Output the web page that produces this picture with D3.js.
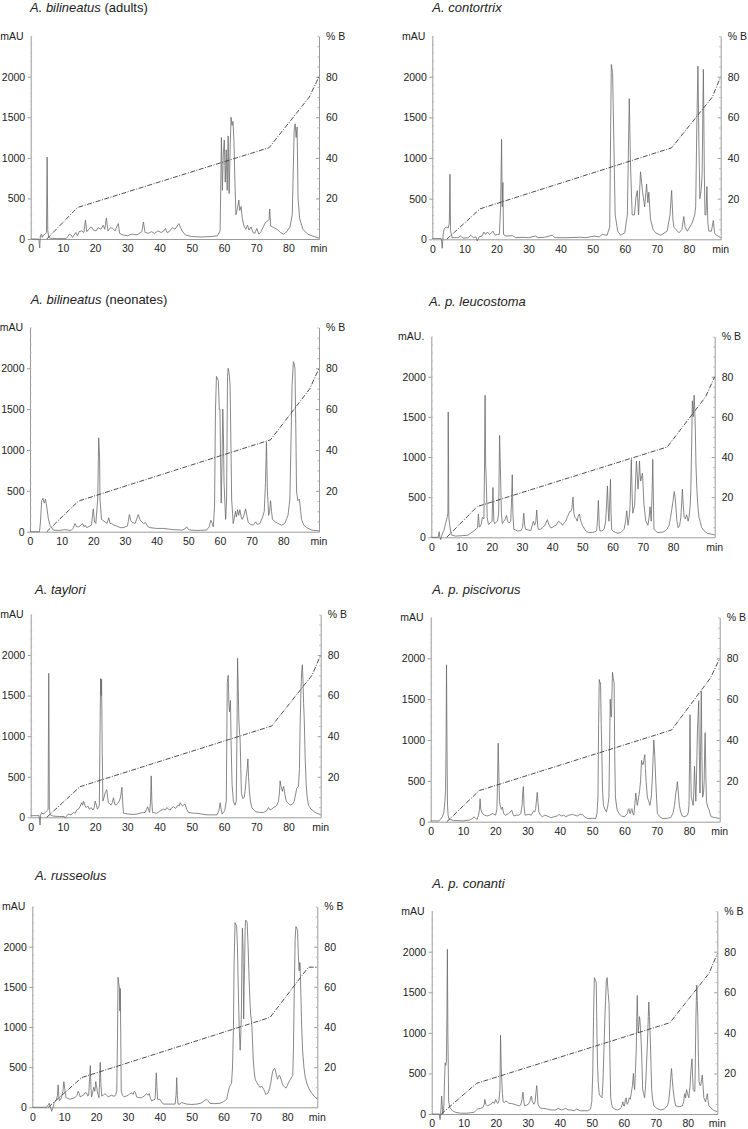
<!DOCTYPE html>
<html><head><meta charset="utf-8">
<script src="https://cdn.jsdelivr.net/npm/d3@7"></script>
<style>
html,body{margin:0;padding:0;background:#fff;}
svg{display:block;font-family:"Liberation Sans",Arial,sans-serif;}
</style></head>
<body>
<svg id="chart" width="748" height="1129"></svg>
<script>
// ---------- DATA ----------
const titleItalic = ["A. bilineatus","A. contortrix","A. bilineatus","A. p. leucostoma","A. taylori","A. p. piscivorus","A. russeolus","A. p. conanti"];
const titleNormal = [" (adults)","",  " (neonates)","","","","",""];
const leftUnit = ["mAU","mAU","mAU","mAU.","mAU","mAU","mAU","mAU"];
const xTickLabels = [0,10,20,30,40,50,60,70,80];
const mauTicks = [0,500,1000,1500,2000];
const pctTicks = [20,40,60,80];
const timeMax = [89.5, 89.9, 91.3, 93.8, 90.0, 89.5, 89.4, 89.2];

// chromatogram traces: [time(min), absorbance(mAU)] pairs
const traceAdults = [0,0, 2.5,0, 2.8,-110, 3.0,40, 3.3,60, 3.6,20, 4.0,50, 4.5,60, 4.9,80, 5.1,1010, 5.3,100, 5.6,20, 6,10, 8,5, 11,5, 11.5,30, 12,60, 12.5,50, 13,20, 13.5,50, 14,80, 14.5,40, 15,90, 15.8,100, 16.5,80, 17,230, 17.4,90, 18,120, 18.8,150, 19.5,110, 20.3,100, 21,140, 21.8,120, 22.5,170, 23,120, 23.5,260, 24,100, 24.8,140, 25.5,130, 26.2,100, 26.8,160, 27.2,190, 27.6,70, 28.5,50, 30,40, 31.5,60, 33,50, 34.5,90, 35,210, 35.5,80, 36.5,70, 37.5,90, 38.5,70, 39.5,100, 40.5,80, 41.3,100, 41.8,130, 42.3,80, 43,90, 44,140, 44.8,120, 45.5,160, 46,190, 46.5,140, 47,100, 48,50, 50,30, 53,25, 56,30, 58,40, 58.8,100, 59.2,1250, 59.5,600, 59.8,1050, 60.1,1220, 60.4,700, 60.7,1100, 61.0,600, 61.3,1270, 61.6,560, 61.9,1100, 62.2,1500, 62.5,1400, 62.8,1450, 63.1,1200, 63.4,700, 63.7,300, 64.2,380, 64.6,480, 64.9,350, 65.3,400, 65.7,250, 66.2,160, 66.8,120, 67.3,170, 67.8,110, 68.4,150, 69,80, 69.6,70, 70.2,130, 70.8,60, 71.5,90, 72.2,150, 72.8,200, 73.5,220, 74,240, 74.2,370, 74.5,160, 75.5,140, 76.5,120, 77.5,80, 78.5,60, 79.5,90, 80.5,150, 81.2,300, 81.8,1350, 82.1,1420, 82.4,1250, 82.7,1380, 83,500, 83.5,250, 84.5,120, 86,60, 88,30, 89.5,10];

const traceContortrix = [0,10, 2.8,10, 3.1,-110, 3.4,60, 3.7,130, 4.3,150, 5.0,140, 5.3,200, 5.5,800, 5.7,100, 6.2,20, 8,20, 8.8,40, 9.6,15, 11.2,20, 12,50, 12.8,20, 13.6,30, 14,-20, 14.6,30, 15.5,40, 16.1,90, 16.6,60, 17.2,90, 17.8,60, 18.5,80, 18.9,100, 19.6,50, 20.3,60, 20.9,60, 21.3,400, 21.6,1230, 21.8,400, 22.0,700, 22.2,60, 23,40, 25,45, 26,20, 28,25, 30,20, 32.2,40, 33,20, 35,25, 37.4,50, 38.2,20, 42,20, 46.2,25, 48,20, 50.4,40, 52,30, 53,60, 54.5,50, 55.3,150, 55.8,2150, 56.2,2050, 56.6,1200, 57.0,300, 57.8,100, 58.7,50, 60,80, 60.8,300, 61.4,1730, 61.8,900, 62.3,300, 63,300, 63.5,520, 63.9,600, 64.3,300, 64.9,830, 65.5,600, 66.2,400, 66.8,680, 67.2,450, 67.5,580, 68,250, 68.8,120, 69.6,80, 71.2,50, 73.2,100, 74.1,300, 74.6,600, 75.0,250, 75.3,150, 76.9,80, 77.8,120, 78.4,280, 78.8,150, 79.5,100, 81,200, 81.8,300, 82.1,400, 82.5,1500, 82.8,2130, 83.1,1200, 83.4,500, 83.8,600, 84.1,800, 84.5,2090, 84.8,800, 85,300, 85.3,300, 85.6,650, 85.9,200, 86.2,100, 87,100, 87.6,230, 88,80, 88.3,60, 89.9,20];

const traceNeonates = [0,0, 3.0,0, 3.3,120, 3.7,380, 4.1,410, 4.5,350, 4.9,400, 5.3,300, 5.8,160, 6.3,80, 7.4,20, 9,15, 11,25, 13,15, 13.6,40, 14.2,100, 14.7,60, 15.3,60, 16.1,80, 16.6,100, 17.1,60, 17.4,80, 17.9,50, 19.4,80, 20.0,280, 20.4,120, 20.8,100, 21.4,400, 21.7,1150, 22.0,900, 22.1,400, 22.6,150, 23.7,120, 24.3,100, 24.9,170, 25.3,100, 25.8,100, 26.5,80, 27.4,70, 28.5,50, 29.5,50, 30.8,70, 31.4,210, 31.8,140, 32.1,120, 33.2,100, 34.2,210, 34.7,150, 35.3,120, 35.9,100, 36.5,110, 37.3,60, 37.9,50, 40,40, 42.1,40, 45.3,25, 48.2,20, 49.1,40, 49.5,60, 50.0,30, 50.5,20, 53,15, 55.8,20, 56.6,60, 57.1,140, 57.6,100, 57.9,60, 58.3,300, 58.6,1500, 58.9,1900, 59.2,1880, 59.5,1850, 59.8,1500, 60.0,1500, 60.4,350, 60.7,900, 60.9,1500, 61.1,1200, 61.3,600, 61.8,150, 62.1,400, 62.4,1900, 62.6,2000, 62.9,1950, 63.2,1800, 63.5,1000, 63.7,400, 64.2,100, 64.6,180, 64.9,250, 65.2,180, 65.6,270, 65.9,200, 66.3,270, 66.7,180, 67.1,150, 67.6,200, 68.1,280, 68.5,200, 68.9,120, 69.6,90, 70.5,80, 71.3,120, 71.8,90, 72.6,100, 73.5,180, 74.0,250, 74.4,600, 74.7,1100, 75.0,500, 75.4,200, 75.7,250, 76.0,380, 76.3,250, 76.6,150, 77.5,120, 78.4,100, 79.5,80, 80.5,100, 81.5,200, 82.1,400, 82.5,1200, 82.8,1800, 83.2,2080, 83.5,2050, 83.7,2000, 84.0,1200, 84.2,500, 84.6,380, 85.1,400, 85.5,250, 85.8,150, 86.5,80, 87.4,50, 89,20, 91.3,10];

const traceLeucostoma = [0,0, 2.3,0, 2.6,70, 2.8,10, 3.1,-30, 3.4,10, 3.6,40, 4.2,90, 4.8,180, 5.3,260, 5.5,300, 5.6,1560, 5.8,250, 6.1,150, 6.6,30, 8,15, 10,20, 12,25, 13,50, 14.1,80, 14.8,100, 15.3,120, 15.6,290, 15.9,130, 16.1,130, 16.5,160, 16.9,250, 17.4,230, 17.6,800, 17.8,1770, 18.0,900, 18.2,700, 18.5,250, 18.9,160, 19.6,180, 20.1,200, 20.4,620, 20.7,200, 21,170, 21.5,190, 21.9,200, 22.3,300, 22.6,1270, 22.9,800, 23.2,300, 23.5,170, 24.0,200, 24.4,220, 24.9,270, 25.3,200, 25.7,180, 26.3,200, 26.6,500, 26.8,780, 27.0,300, 27.3,100, 28,90, 28.5,80, 29.6,80, 30.2,120, 30.6,300, 30.9,150, 31.2,100, 32.2,90, 32.9,80, 33.4,150, 33.8,200, 34.2,150, 34.6,200, 34.9,340, 35.2,150, 35.4,100, 36.1,100, 36.8,120, 37.6,150, 38.4,220, 38.9,160, 39.5,120, 40.0,120, 40.6,140, 41.3,150, 42.1,200, 42.8,180, 43.4,150, 44.0,180, 44.5,200, 45.0,250, 45.4,280, 45.8,320, 46.1,320, 46.5,350, 46.9,500, 47.2,300, 47.5,250, 48.0,230, 48.3,200, 48.6,260, 49,290, 49.5,200, 50,150, 51.1,80, 52,60, 53.3,60, 54.2,70, 54.7,80, 55.0,200, 55.3,460, 55.6,150, 55.8,80, 56.5,80, 57.2,100, 57.7,200, 58.0,400, 58.3,640, 58.6,300, 58.8,200, 59.1,500, 59.3,720, 59.5,300, 59.7,100, 60.3,70, 61,60, 61.8,50, 62.7,60, 63.3,80, 63.8,100, 64.3,200, 64.7,330, 65.1,150, 65.5,250, 65.8,400, 66.0,700, 66.2,970, 66.5,500, 66.7,300, 67.0,350, 67.3,400, 67.6,700, 67.9,950, 68.2,750, 68.4,600, 68.7,750, 68.9,950, 69.1,800, 69.3,700, 69.6,750, 69.9,800, 70.2,550, 70.4,400, 71,200, 71.7,150, 72.1,250, 72.4,380, 72.8,200, 73.1,600, 73.3,970, 73.5,500, 73.7,100, 74.8,60, 76,60, 77,70, 78,100, 78.7,150, 79.2,250, 79.6,350, 80.0,450, 80.4,570, 80.7,500, 80.9,400, 81.3,200, 81.7,120, 82.2,150, 82.6,250, 82.9,450, 83.1,600, 83.4,400, 83.7,250, 84.1,230, 84.5,280, 85.0,200, 85.3,250, 85.7,400, 85.9,600, 86.2,1200, 86.4,1700, 86.7,1500, 87.0,1770, 87.2,1600, 87.4,1330, 87.6,900, 87.9,600, 88.2,400, 88.6,250, 89.5,120, 90.3,80, 91.4,50, 93.8,30];

const traceTaylori = [0,20, 2.6,20, 2.9,-95, 3.1,30, 3.4,60, 3.8,40, 4.2,50, 4.6,60, 5.0,80, 5.4,100, 5.6,1775, 5.8,100, 6.1,30, 7,15, 9,10, 10.4,10, 10.7,-10, 11.2,20, 11.7,40, 12.5,30, 13.3,60, 13.8,50, 14.3,90, 14.8,100, 15.3,130, 15.8,180, 16.1,150, 16.4,200, 16.8,150, 17.2,120, 17.7,140, 18.2,100, 18.8,120, 19.3,90, 19.7,120, 20.0,200, 20.4,150, 20.7,100, 21.0,120, 21.3,150, 21.5,1000, 21.7,1710, 21.85,1500, 22.0,1700, 22.2,800, 22.4,200, 22.8,250, 23.1,300, 23.6,340, 24.1,180, 24.5,170, 24.9,150, 25.3,180, 25.7,240, 26.1,160, 26.5,150, 27,170, 27.5,200, 27.9,250, 28.3,370, 28.6,150, 28.8,50, 30.3,40, 31.9,35, 33,40, 34,50, 35,60, 35.5,60, 36.0,100, 36.3,130, 36.6,90, 36.9,60, 37.2,200, 37.4,510, 37.6,200, 37.8,60, 39.1,50, 40.2,80, 41.2,100, 41.8,90, 42.2,120, 42.8,100, 43.3,90, 43.8,120, 44.3,130, 45.0,110, 45.7,150, 46.1,140, 46.4,180, 46.8,150, 47.2,140, 47.6,160, 47.9,160, 48.4,100, 49,60, 50.5,50, 51.6,50, 53,40, 54.7,30, 56,30, 57.8,30, 58.4,80, 58.8,180, 59.1,100, 59.4,40, 60.2,80, 60.7,200, 61.0,1660, 61.3,1750, 61.5,1400, 61.7,1300, 62.0,1440, 62.2,900, 62.5,400, 62.9,200, 63.4,150, 63.8,200, 64.0,1000, 64.2,1960, 64.4,1600, 64.6,1200, 64.8,1050, 65.0,950, 65.2,600, 65.4,300, 65.8,230, 66.3,250, 66.6,350, 66.9,500, 67.2,600, 67.4,720, 67.6,500, 67.9,300, 68.2,200, 68.6,120, 69.7,70, 71,60, 72.3,60, 73.2,80, 73.8,120, 74.3,90, 74.8,100, 75.3,120, 75.9,130, 76.4,150, 76.9,200, 77.2,300, 77.4,450, 77.7,380, 78.1,320, 78.3,360, 78.5,380, 78.9,280, 79.3,200, 80.0,170, 80.5,150, 81.2,160, 81.8,200, 82.3,300, 82.6,360, 83.1,380, 83.4,600, 83.6,1100, 83.9,1600, 84.1,1800, 84.3,1880, 84.5,1700, 84.7,1400, 84.9,1200, 85.2,700, 85.5,400, 85.8,250, 86.2,150, 87,100, 88.3,60, 90,30];

const tracePiscivorus = [0,10, 2.5,10, 3.1,30, 3.6,60, 4.1,120, 4.4,250, 4.6,380, 4.75,900, 4.9,1920, 5.05,900, 5.2,200, 5.4,80, 5.7,30, 7,15, 10,10, 12,20, 13.0,40, 13.4,60, 13.9,40, 14.4,30, 14.8,80, 15.1,150, 15.3,280, 15.5,150, 16,100, 16.7,80, 17.5,70, 18.3,80, 19.1,100, 19.6,90, 20.1,80, 20.5,150, 20.7,500, 20.9,960, 21.1,600, 21.3,250, 21.5,200, 21.9,150, 22.2,180, 22.6,100, 23.2,80, 24.1,100, 24.7,120, 25.1,140, 25.5,90, 25.8,70, 26.5,80, 27.3,80, 27.9,100, 28.3,200, 28.5,350, 28.7,430, 28.9,200, 29.2,80, 30.4,90, 31.2,80, 31.8,130, 32.2,120, 32.5,160, 32.8,280, 33.0,360, 33.2,250, 33.5,120, 34.0,80, 34.6,60, 35.3,80, 36.1,70, 37.2,50, 38.2,60, 39.2,70, 39.7,90, 40.5,70, 41.2,80, 41.8,60, 42.8,80, 43.9,90, 44.6,80, 45.4,70, 46.2,90, 47,90, 47.6,60, 48.5,40, 50,40, 51.1,40, 51.5,100, 51.8,300, 52.0,1200, 52.2,1740, 52.4,1700, 52.6,1700, 52.8,1200, 53.0,850, 53.2,400, 53.5,200, 54.0,150, 54.4,120, 54.8,180, 55.2,300, 55.4,900, 55.6,1500, 55.8,1300, 56.0,1280, 56.15,1600, 56.3,1830, 56.55,1750, 56.8,1700, 57.0,800, 57.2,300, 57.7,150, 58.3,100, 59.1,70, 59.9,60, 60.5,80, 60.9,100, 61.2,150, 61.4,160, 61.7,100, 61.9,100, 62.1,150, 62.3,160, 62.6,100, 62.9,80, 63.2,200, 63.5,350, 63.8,250, 64.0,200, 64.4,300, 64.7,380, 65.0,500, 65.3,750, 65.6,700, 65.8,700, 66.0,750, 66.3,820, 66.5,650, 66.7,500, 67.1,300, 67.5,250, 67.9,200, 68.3,300, 68.6,500, 68.9,800, 69.1,1000, 69.4,800, 69.7,500, 70.0,250, 70.2,100, 71.0,60, 71.7,40, 73,40, 74.3,50, 75.0,100, 75.5,200, 75.9,350, 76.2,420, 76.4,490, 76.7,350, 77.0,200, 77.4,120, 77.9,70, 78.7,60, 79.5,80, 79.8,120, 80.0,200, 80.15,700, 80.3,1310, 80.5,700, 80.7,300, 81.0,250, 81.3,200, 81.5,400, 81.7,680, 81.9,450, 82.1,250, 82.3,500, 82.6,1100, 82.8,1300, 83.0,1480, 83.2,800, 83.4,350, 83.6,900, 83.8,1600, 84.0,800, 84.2,300, 84.5,350, 84.7,500, 84.85,900, 85.0,1090, 85.2,600, 85.4,250, 85.8,180, 86.2,150, 86.5,100, 86.9,60, 88,50, 89.5,40];

const traceRusseolus = [0,0, 4.5,0, 5.3,50, 6.1,-50, 6.5,0, 6.9,60, 7.3,80, 7.6,100, 7.9,150, 8.1,280, 8.3,150, 8.5,80, 8.9,100, 9.2,130, 9.6,200, 9.9,320, 10.2,220, 10.6,120, 11.2,110, 11.8,100, 12.6,110, 13.4,120, 14.0,150, 14.4,200, 14.7,170, 15.0,130, 15.5,140, 16.0,150, 16.5,180, 17.0,180, 17.4,140, 17.7,150, 17.95,350, 18.2,520, 18.4,250, 18.6,130, 19.0,200, 19.3,250, 19.6,200, 19.9,320, 20.2,250, 20.4,200, 20.7,150, 20.9,120, 21.1,300, 21.3,560, 21.5,300, 21.8,140, 22.3,150, 22.8,170, 23.3,150, 23.8,130, 24.3,140, 24.9,150, 25.4,140, 25.9,140, 26.2,160, 26.5,200, 26.7,800, 26.9,1620, 27.1,1550, 27.3,1500, 27.45,1200, 27.6,1480, 27.75,900, 27.9,200, 28.3,150, 28.8,130, 29.5,140, 30.1,150, 30.6,170, 31.2,180, 31.6,160, 32.0,200, 32.4,180, 32.7,130, 33.5,120, 34.3,120, 35.1,140, 35.9,170, 36.3,150, 36.7,170, 37.0,120, 37.4,80, 38.0,90, 38.5,100, 38.7,250, 38.9,430, 39.1,250, 39.3,100, 40,100, 40.5,70, 41.1,40, 43.2,40, 44.8,40, 45.1,150, 45.3,370, 45.5,150, 45.7,40, 46.3,40, 46.9,60, 47.5,50, 48.4,40, 50,35, 51.6,40, 52.8,50, 53.6,70, 54.2,90, 54.7,100, 55.2,80, 55.7,50, 57,45, 58.9,50, 60,70, 61.0,100, 61.4,180, 61.8,250, 62.2,280, 62.5,300, 62.8,500, 63.1,1000, 63.3,1800, 63.6,2300, 63.85,2280, 64.1,2250, 64.35,2000, 64.6,1500, 64.9,1000, 65.2,710, 65.4,900, 65.6,1200, 65.75,1800, 65.9,2230, 66.1,2000, 66.3,1100, 66.45,1500, 66.6,1800, 66.75,2200, 66.9,2330, 67.15,2320, 67.4,2300, 67.7,2000, 68.0,1600, 68.3,1300, 68.5,1150, 68.7,1100, 68.9,1000, 69.1,800, 69.3,600, 69.6,450, 69.9,350, 70.3,320, 70.6,300, 71.0,270, 71.4,250, 72.0,260, 72.5,230, 72.9,200, 73.2,160, 73.6,170, 74.0,180, 74.4,230, 74.8,300, 75.1,380, 75.4,450, 75.8,480, 76.1,480, 76.5,420, 76.9,350, 77.2,370, 77.5,400, 77.8,380, 78.0,350, 78.4,300, 78.7,270, 79.2,250, 79.6,240, 80.0,270, 80.3,300, 80.7,330, 81.0,350, 81.4,380, 81.7,400, 81.9,700, 82.2,1500, 82.45,2100, 82.7,2250, 82.95,2230, 83.2,2200, 83.45,1900, 83.7,1700, 83.85,1800, 84.0,1800, 84.25,1400, 84.5,1000, 84.8,700, 85.2,500, 85.6,380, 86.1,300, 86.8,230, 87.6,180, 88.4,140, 89.4,100];

const traceConanti = [0,0, 2.4,0, 2.6,-70, 2.8,0, 2.95,100, 3.1,220, 3.3,100, 3.5,0, 3.8,100, 4.0,400, 4.2,630, 4.4,600, 4.6,650, 4.75,1200, 4.9,2030, 5.05,1000, 5.3,150, 5.7,80, 6.5,40, 7.5,20, 9,10, 11,10, 13.2,20, 13.7,40, 14.3,60, 15.3,70, 16.0,80, 16.4,120, 16.6,180, 16.9,120, 17.4,100, 17.9,110, 18.4,120, 18.8,130, 19.1,150, 19.6,130, 20.0,180, 20.4,140, 20.7,130, 21.0,160, 21.3,300, 21.5,970, 21.7,600, 21.9,400, 22.1,250, 22.3,150, 22.7,140, 23.1,160, 23.6,150, 24.1,130, 24.9,130, 25.7,120, 26.5,110, 27.3,100, 27.8,110, 28.2,180, 28.5,270, 28.7,180, 29.0,100, 29.7,110, 30.4,130, 30.8,180, 31.1,220, 31.4,160, 31.9,120, 32.3,150, 32.6,280, 32.8,350, 33.0,250, 33.2,120, 33.6,90, 34.0,70, 35,70, 36.1,60, 37.3,50, 38.7,50, 39.5,70, 40.5,50, 41.3,60, 41.8,70, 42.6,50, 43.5,50, 44.4,40, 45.3,60, 46.4,40, 48.6,40, 49.2,50, 49.6,60, 50.0,150, 50.3,500, 50.55,1200, 50.8,1680, 51.1,1650, 51.4,1620, 51.6,1000, 51.8,600, 52.0,400, 52.3,250, 52.7,220, 53.2,200, 53.5,400, 53.8,800, 54.1,1200, 54.3,1400, 54.55,1650, 54.8,1680, 55.1,1500, 55.4,1350, 55.65,700, 55.9,200, 56.2,120, 56.5,80, 57.2,60, 58.0,50, 58.7,60, 59.2,80, 59.5,120, 59.7,150, 59.95,100, 60.2,100, 60.5,180, 60.7,200, 60.9,140, 61.1,120, 61.4,150, 61.7,200, 62.0,180, 62.3,250, 62.7,350, 63.0,500, 63.2,350, 63.4,300, 63.6,500, 63.9,800, 64.05,1200, 64.2,1460, 64.35,1200, 64.5,1000, 64.7,1100, 64.9,1200, 65.05,1150, 65.2,1050, 65.4,900, 65.6,700, 65.9,300, 66.2,250, 66.5,200, 66.8,350, 67.0,520, 67.3,800, 67.5,1000, 67.65,1200, 67.8,1380, 68.0,1200, 68.3,900, 68.5,600, 68.7,300, 69.0,180, 69.4,100, 70.3,70, 71.5,50, 72.6,60, 73.6,100, 74.0,150, 74.4,300, 74.65,450, 74.9,560, 75.1,450, 75.4,300, 75.8,180, 76.2,100, 77.2,90, 78.3,100, 78.7,150, 79.0,250, 79.3,200, 79.6,300, 79.9,250, 80.3,200, 80.7,350, 81.0,560, 81.3,680, 81.5,450, 81.7,300, 82.0,280, 82.2,280, 82.35,700, 82.5,1150, 82.65,1400, 82.8,1590, 82.95,1400, 83.1,1200, 83.3,700, 83.5,400, 83.8,350, 84.0,350, 84.3,420, 84.5,480, 84.75,350, 85.0,200, 85.5,150, 85.8,200, 86.1,250, 86.35,150, 86.6,100, 87.1,80, 87.6,60, 88.3,40, 89.2,30];

// solvent gradient: [time(min), %B] pairs
const gradAdults = [5.0,0, 14.5,15.5, 74.0,45, 86.5,70, 89.5,80];
const gradContortrix = [4.5,0, 14.9,15, 74.6,45, 87.3,70, 89.9,80];
const gradNeonates = [5.3,0, 15.3,15, 76.0,45, 88.4,70, 91.3,80];
const gradLeucostoma = [5.1,0, 15.2,15.3, 78.1,45, 90.8,70, 93.8,80];
const gradTaylori = [5.0,0, 15.3,15.1, 74.8,45, 87.3,70, 90.0,80];
const gradPiscivorus = [5.0,0, 15.0,15.2, 74.6,44.9, 86.7,70.5, 89.5,80];
const gradRusseolus = [5.0,0, 15.5,14.8, 74.6,44.8, 86.6,69.8, 89.4,69.8];
const gradConanti = [3.0,0, 14.0,15.1, 74.4,45, 86.6,69.3, 89.2,79];

const traces = [traceAdults, traceContortrix, traceNeonates, traceLeucostoma, traceTaylori, tracePiscivorus, traceRusseolus, traceConanti];
const grads = [gradAdults, gradContortrix, gradNeonates, gradLeucostoma, gradTaylori, gradPiscivorus, gradRusseolus, gradConanti];

// ---------- LAYOUT (pixel geometry of each panel) ----------
const layout = [
  {left:30.7, right:319.0, y0:239.0, y2000:76.7, tx:30.0, ty:11.5},
  {left:432.3, right:720.7, y0:239.3, y2000:76.7, tx:432.3, ty:11.5},
  {left:30.0, right:319.0, y0:531.7, y2000:368.3, tx:30.7, ty:304.0},
  {left:431.3, right:714.7, y0:537.3, y2000:376.7, tx:429.0, ty:306.0},
  {left:30.7, right:320.7, y0:817.3, y2000:655.0, tx:35.0, ty:594.0},
  {left:430.7, right:719.7, y0:821.7, y2000:658.3, tx:432.3, ty:594.0},
  {left:32.3, right:317.3, y0:1107.3, y2000:946.7, tx:35.0, ty:880.0},
  {left:431.7, right:717.3, y0:1114.0, y2000:951.7, tx:432.3, ty:887.5}
];

const pairs = arr => d3.range(0, arr.length, 2).map(i => [arr[i], arr[i+1]]);

const svg = d3.select("#chart");
const FONT = 10.5;
const AX = "#9a9a9a";
const fmt = d3.format("d");

layout.forEach((L, i) => {
  const g = svg.append("g");
  const yTop = L.y0 - (L.y0 - L.y2000) * 1.25;
  const x = d3.scaleLinear().domain([0, timeMax[i]]).range([L.left, L.right]);
  const y = d3.scaleLinear().domain([0, 2500]).range([L.y0, yTop]);
  const yB = d3.scaleLinear().domain([0, 100]).range([L.y0, yTop]);

  // title
  const t = g.append("text").attr("x", L.tx).attr("y", L.ty)
    .attr("font-size", 13).attr("fill", "#222");
  t.append("tspan").attr("font-style", "italic").text(titleItalic[i]);
  if (titleNormal[i]) t.append("tspan").text(titleNormal[i]);

  // left axis (mAU)
  const la = g.append("g").attr("transform", `translate(${L.left},0)`)
    .call(d3.axisLeft(y).tickValues(mauTicks).tickFormat(fmt).tickSize(3).tickSizeOuter(0).tickPadding(2.5));
  la.select(".domain").attr("stroke", AX);
  la.selectAll(".tick line").attr("stroke", AX);
  la.selectAll(".tick text").attr("font-size", FONT).attr("fill", "#222").attr("font-family", "Liberation Sans, Arial, sans-serif");
  const lm = g.append("g").attr("transform", `translate(${L.left},0)`)
    .call(d3.axisRight(y).tickValues(d3.range(100, 2501, 100)).tickSize(1.5).tickFormat(""));
  lm.select(".domain").remove();
  lm.selectAll(".tick line").attr("stroke", "#b5b5b5");

  g.append("text").attr("x", L.left - 7).attr("y", yTop).attr("dy", "0.35em")
    .attr("text-anchor", "end").attr("font-size", FONT).attr("fill", "#222").text(leftUnit[i]);

  // right axis (% B)
  const ra = g.append("g").attr("transform", `translate(${L.right},0)`)
    .call(d3.axisRight(yB).tickValues(pctTicks).tickFormat(fmt).tickSize(-3).tickSizeOuter(0).tickPadding(7));
  ra.select(".domain").attr("stroke", AX);
  ra.selectAll(".tick line").attr("stroke", AX);
  ra.selectAll(".tick text").attr("font-size", FONT).attr("fill", "#222").attr("font-family", "Liberation Sans, Arial, sans-serif");
  const rm = g.append("g").attr("transform", `translate(${L.right},0)`)
    .call(d3.axisRight(yB).tickValues(d3.range(5, 101, 5).filter(v => !pctTicks.includes(v))).tickSize(-1.5).tickFormat(""));
  rm.select(".domain").remove();
  rm.selectAll(".tick line").attr("stroke", "#b5b5b5");
  g.append("text").attr("x", L.right + 7).attr("y", yTop).attr("dy", "0.35em")
    .attr("font-size", FONT).attr("fill", "#222").text("% B");

  // bottom axis (min)
  const ba = g.append("g").attr("transform", `translate(0,${L.y0})`)
    .call(d3.axisBottom(x).tickValues(xTickLabels).tickFormat(fmt).tickSize(0).tickSizeOuter(0).tickPadding(6));
  ba.select(".domain").attr("stroke", AX);
  ba.selectAll(".tick text").attr("font-size", FONT).attr("fill", "#222").attr("font-family", "Liberation Sans, Arial, sans-serif");
  g.append("text").attr("x", L.right).attr("y", L.y0 + 6).attr("dy", "0.71em")
    .attr("text-anchor", "middle").attr("font-size", FONT).attr("fill", "#222").text("min");

  // chromatogram trace
  g.append("path").datum(pairs(traces[i]))
    .attr("fill", "none").attr("stroke", "#6a6a6a").attr("stroke-width", 0.8)
    .attr("stroke-linejoin", "round")
    .attr("d", d3.line().x(d => x(d[0])).y(d => y(d[1])));

  // gradient (% B)
  g.append("path").datum(pairs(grads[i]))
    .attr("fill", "none").attr("stroke", "#3a3a3a").attr("stroke-width", 0.9)
    .attr("stroke-dasharray", "5,1.5,1,1.5")
    .attr("d", d3.line().x(d => x(d[0])).y(d => yB(d[1])));
});
</script>
</body></html>
